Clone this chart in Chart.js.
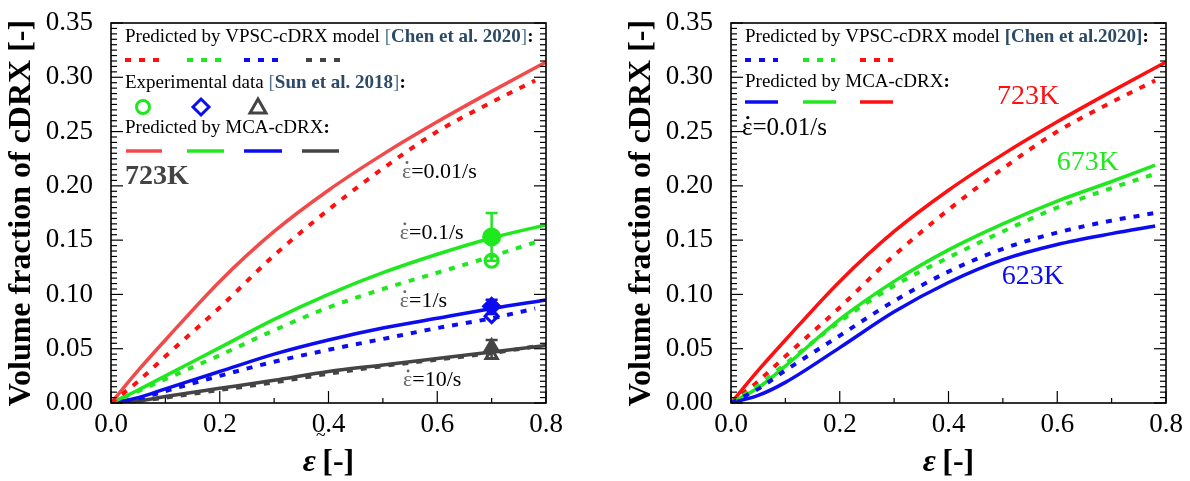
<!DOCTYPE html>
<html>
<head>
  <script src="https://cdn.jsdelivr.net/npm/chart.js"></script>
  <style>
    body { margin: 0; background: #fff; }
    canvas { position: absolute; top: 0; }
  </style>
</head>
<body>
  <div style="position: relative; width: 1190px; height: 481px;">
    <canvas id="leftChart" width="595" height="481" style="left: 0;"></canvas>
    <canvas id="rightChart" width="595" height="481" style="left: 595px;"></canvas>
  </div>

  <script>
    // strain values (x)
    const strainSolid = [0, 0.05, 0.1, 0.2, 0.3, 0.4, 0.5, 0.6, 0.7, 0.8];
    const strainDot = [0, 0.05, 0.1, 0.2, 0.3, 0.4, 0.5, 0.6, 0.7, 0.78];

    // 723K, four strain rates (left panel) - MCA solid, VPSC dotted
    const mca723_001 = [0, 0.03, 0.058, 0.112, 0.158, 0.196, 0.229, 0.259, 0.287, 0.314];
    const vpsc723_001 = [0, 0.02, 0.043, 0.088, 0.136, 0.178, 0.216, 0.25, 0.277, 0.297];
    const mca723_01 = [0, 0.012, 0.025, 0.051, 0.077, 0.1, 0.12, 0.137, 0.152, 0.164];
    const vpsc723_01 = [0, 0.011, 0.022, 0.044, 0.067, 0.088, 0.105, 0.12, 0.135, 0.148];
    const mca723_1 = [0, 0.005, 0.013, 0.029, 0.045, 0.058, 0.069, 0.078, 0.087, 0.095];
    const vpsc723_1 = [0, 0.004, 0.011, 0.025, 0.038, 0.049, 0.059, 0.069, 0.078, 0.087];
    const mca723_10 = [0, 0.002, 0.006, 0.0135, 0.021, 0.029, 0.035, 0.041, 0.047, 0.053];
    const vpsc723_10 = [0, 0.002, 0.005, 0.012, 0.019, 0.027, 0.034, 0.04, 0.046, 0.052];

    // 0.01/s, three temperatures (right panel)
    const mca673 = [0, 0.014, 0.034, 0.077, 0.112, 0.141, 0.165, 0.186, 0.204, 0.219];
    const vpsc673 = [0, 0.016, 0.036, 0.075, 0.108, 0.134, 0.158, 0.18, 0.198, 0.211];
    const mca623 = [0, 0.007, 0.019, 0.051, 0.084, 0.111, 0.132, 0.146, 0.156, 0.163];
    const vpsc623 = [0, 0.013, 0.03, 0.062, 0.094, 0.121, 0.142, 0.157, 0.168, 0.175];

    // experimental points at strain 0.7 (0.1/s, 1/s, 10/s)
    const expStrain = [0.7, 0.7, 0.7];
    const expOpen = [0.131, 0.080, 0.044];
    const expFilled = [0.153, 0.089, 0.051];
    const errLow = [0.131, 0.082, 0.041];
    const errHigh = [0.175, 0.095, 0.058];

    const xTicks = [0, 0.2, 0.4, 0.6, 0.8];
    const yTicks = [0, 0.05, 0.1, 0.15, 0.2, 0.25, 0.3, 0.35];

    const SERIF = 'Liberation Serif';
    const RED_L = '#f24a4a', RED = '#ff0f0f', GREEN = '#1fe81f', BLUE = '#0c0cf0', GRAY = '#444444';
    const CITE = '#2c4a68', BRACKET = '#56768f';

    const pts = (xs, ys) => xs.map((x, i) => ({ x: x, y: ys[i] }));

    function lineSet(xs, ys, color, dotted) {
      return {
        data: pts(xs, ys),
        showLine: true,
        borderColor: color,
        borderWidth: dotted ? 4 : 3.5,
        borderDash: dotted ? [6, 8] : [],
        pointRadius: 0,
        cubicInterpolationMode: 'monotone'
      };
    }

    function markerSet(i, ys, color, style, filled) {
      return {
        data: [{ x: expStrain[i], y: ys[i] }],
        showLine: false,
        pointStyle: style,
        pointRadius: filled ? 8 : 6.5,
        borderWidth: 3,
        borderColor: color,
        pointBackgroundColor: filled ? color : '#fff'
      };
    }

    // rich text: segments of [text, bold, color, italic]
    function rich(ctx, x, y, size, segs) {
      ctx.textBaseline = 'middle';
      ctx.textAlign = 'left';
      segs.forEach(s => {
        ctx.font = (s[3] ? 'italic ' : '') + (s[1] ? 'bold ' : '') + size + 'px "' + SERIF + '"';
        ctx.fillStyle = s[2] || '#000';
        ctx.fillText(s[0], x, y);
        x += ctx.measureText(s[0]).width;
      });
      return x;
    }

    // epsilon with a dot above, then the rest of the label
    function rateLabel(ctx, x, y, size, epsColor, rest) {
      ctx.font = size + 'px "' + SERIF + '"';
      const w = ctx.measureText('\u03B5').width;
      rich(ctx, x, y, size, [['\u03B5', false, epsColor], [rest]]);
      ctx.fillStyle = epsColor;
      ctx.beginPath();
      ctx.arc(x + w * 0.55, y - size * 0.42, size * 0.065, 0, Math.PI * 2);
      ctx.fill();
    }

    function sample(ctx, x1, x2, y, color, dotted) {
      ctx.save();
      ctx.strokeStyle = color;
      ctx.lineWidth = dotted ? 4 : 3.5;
      ctx.setLineDash(dotted ? [6, 8] : []);
      ctx.beginPath(); ctx.moveTo(x1, y); ctx.lineTo(x2, y); ctx.stroke();
      ctx.restore();
    }

    function openMarker(ctx, x, y, color, shape) {
      ctx.save();
      ctx.strokeStyle = color; ctx.lineWidth = 3; ctx.fillStyle = '#fff';
      ctx.beginPath();
      if (shape === 'circle') ctx.arc(x, y, 6.5, 0, Math.PI * 2);
      else if (shape === 'diamond') { ctx.moveTo(x, y - 8); ctx.lineTo(x + 8, y); ctx.lineTo(x, y + 8); ctx.lineTo(x - 8, y); ctx.closePath(); }
      else { ctx.moveTo(x, y - 8); ctx.lineTo(x + 8, y + 6); ctx.lineTo(x - 8, y + 6); ctx.closePath(); }
      ctx.fill(); ctx.stroke();
      ctx.restore();
    }

    // frame with inward ticks on both y sides and bottom x
    const frameTicks = {
      id: 'frameTicks',
      afterDraw(chart) {
        const { ctx, chartArea: a, scales: { x, y } } = chart;
        ctx.save();
        ctx.strokeStyle = '#000';
        ctx.lineWidth = 1.2;
        const seg = (x1, y1, x2, y2) => { ctx.beginPath(); ctx.moveTo(x1, y1); ctx.lineTo(x2, y2); ctx.stroke(); };
        for (let i = 0; i <= 70; i++) {
          const py = y.getPixelForValue(i * 0.005);
          const len = i % 10 === 0 ? 12 : 6;
          seg(a.left, py, a.left + len, py);
          seg(a.right, py, a.right - len, py);
        }
        for (let i = 0; i <= 8; i++) {
          const px = x.getPixelForValue(i * 0.1);
          seg(px, a.bottom, px, a.bottom - (i % 2 === 0 ? 12 : 5));
        }
        ctx.lineWidth = 1.6;
        ctx.strokeRect(a.left, a.top, a.width, a.height);
        ctx.restore();
      }
    };

    // axis titles
    const axisTitles = {
      id: 'axisTitles',
      afterDraw(chart) {
        const { ctx, chartArea: a } = chart;
        ctx.save();
        ctx.translate(a.left - 89, (a.top + a.bottom) / 2);
        ctx.rotate(-Math.PI / 2);
        ctx.font = 'bold 32px "' + SERIF + '"';
        ctx.fillStyle = '#000';
        ctx.textAlign = 'center';
        ctx.textBaseline = 'middle';
        ctx.fillText('Volume fraction of cDRX [-]', 0, 0);
        ctx.restore();

        ctx.save();
        ctx.font = 'italic bold 32px "' + SERIF + '"';
        const w1 = ctx.measureText('\u03B5').width;
        ctx.font = 'bold 32px "' + SERIF + '"';
        const w2 = ctx.measureText('\u2009[-]').width;
        const x0 = (a.left + a.right) / 2 - (w1 + w2) / 2;
        rich(ctx, x0, 463, 32, [['\u03B5', true, '#000', true], ['\u2009[-]', true, '#000']]);
        ctx.restore();
      }
    };

    // error bars on filled experimental points (left panel)
    const errorBars = {
      id: 'errorBars',
      afterDatasetsDraw(chart) {
        const { ctx, scales: { x, y } } = chart;
        const cols = [GREEN, BLUE, GRAY];
        ctx.save();
        ctx.lineWidth = 2.5;
        expStrain.forEach((sx, i) => {
          const px = x.getPixelForValue(sx);
          const lo = y.getPixelForValue(errLow[i]), hi = y.getPixelForValue(errHigh[i]);
          ctx.strokeStyle = cols[i];
          ctx.beginPath();
          ctx.moveTo(px, lo); ctx.lineTo(px, hi);
          ctx.moveTo(px - 6, lo); ctx.lineTo(px + 6, lo);
          ctx.moveTo(px - 6, hi); ctx.lineTo(px + 6, hi);
          ctx.stroke();
        });
        ctx.restore();
      }
    };

    const leftNotes = {
      id: 'leftNotes',
      afterDraw(chart) {
        const { ctx, scales: { x, y } } = chart;
        ctx.save();
        rich(ctx, 125, 37, 19, [['Predicted by VPSC-cDRX model '], ['[', false, BRACKET], ['Chen et al. 2020', true, CITE], [']', false, BRACKET], [':', true]]);
        sample(ctx, 125, 161, 60, RED, true);
        sample(ctx, 187, 223, 60, GREEN, true);
        sample(ctx, 244, 280, 60, BLUE, true);
        sample(ctx, 306, 342, 60, GRAY, true);
        rich(ctx, 125, 83, 19, [['Experimental data '], ['[', false, BRACKET], ['Sun et al. 2018', true, CITE], [']', false, BRACKET], [':', true]]);
        openMarker(ctx, 143, 107, GREEN, 'circle');
        openMarker(ctx, 201, 107, BLUE, 'diamond');
        openMarker(ctx, 258, 107, GRAY, 'triangle');
        rich(ctx, 125, 128, 19, [['Predicted by MCA-cDRX'], [':', true]]);
        sample(ctx, 126, 162, 151, RED_L, false);
        sample(ctx, 187, 224, 151, GREEN, false);
        sample(ctx, 244, 282, 151, BLUE, false);
        sample(ctx, 302, 339, 151, GRAY, false);
        rich(ctx, 125, 177, 28, [['723K', true, GRAY]]);

        const notes = [[0.535, 0.213, '0.01/s'], [0.531, 0.1565, '0.1/s'], [0.531, 0.094, '1/s'], [0.537, 0.021, '10/s']];
        notes.forEach(n => rateLabel(ctx, x.getPixelForValue(n[0]), y.getPixelForValue(n[1]), 22, '#666', '=' + n[2]));
        rich(ctx, 316, 436, 18, [['~']]);
        ctx.restore();
      }
    };

    const rightNotes = {
      id: 'rightNotes',
      afterDraw(chart) {
        const { ctx, scales: { x, y } } = chart;
        ctx.save();
        rich(ctx, 150, 37, 19, [['Predicted by VPSC-cDRX model '], ['[Chen et al.2020]', true, CITE], [':', true]]);
        sample(ctx, 150, 183, 60, BLUE, true);
        sample(ctx, 208, 240, 60, GREEN, true);
        sample(ctx, 265, 298, 60, RED, true);
        rich(ctx, 150, 82, 19, [['Predicted by MCA-cDRX'], [':', true]]);
        sample(ctx, 150, 183, 102, BLUE, false);
        sample(ctx, 208, 241, 102, GREEN, false);
        sample(ctx, 265, 298, 102, RED, false);
        rateLabel(ctx, 147, 128, 25, '#000', '=0.01/s');

        rich(ctx, x.getPixelForValue(0.489), y.getPixelForValue(0.282), 28, [['723K', false, RED]]);
        rich(ctx, x.getPixelForValue(0.599), y.getPixelForValue(0.221), 28, [['673K', false, GREEN]]);
        rich(ctx, x.getPixelForValue(0.498), y.getPixelForValue(0.116), 28, [['623K', false, BLUE]]);
        ctx.restore();
      }
    };

    function scales(yWidth) {
      const tickFont = { family: SERIF, size: 27 };
      return {
        x: {
          type: 'linear', min: 0, max: 0.8,
          grid: { display: false, drawTicks: false },
          border: { display: false },
          afterBuildTicks: s => { s.ticks = xTicks.map(v => ({ value: v })); },
          ticks: { color: '#000', font: tickFont, padding: 6, maxRotation: 0, callback: v => v.toFixed(1) },
          afterFit: s => { s.height = 78; s.paddingLeft = 0; s.paddingRight = 0; }
        },
        y: {
          type: 'linear', min: 0, max: 0.35,
          grid: { display: false, drawTicks: false },
          border: { display: false },
          afterBuildTicks: s => { s.ticks = yTicks.map(v => ({ value: v })); },
          ticks: { color: '#000', font: tickFont, padding: 18, callback: v => v.toFixed(2) },
          afterFit: s => { s.width = yWidth; s.paddingTop = 0; s.paddingBottom = 0; }
        }
      };
    }

    function baseOptions(yWidth, rightPad) {
      return {
        responsive: false,
        animation: false,
        layout: { padding: { left: 0, right: rightPad, top: 23, bottom: 0 } },
        plugins: { legend: { display: false }, tooltip: { enabled: false } },
        scales: scales(yWidth)
      };
    }

    new Chart(document.getElementById('leftChart'), {
      type: 'scatter',
      data: {
        datasets: [
          lineSet(strainDot, vpsc723_001, RED, true),
          lineSet(strainDot, vpsc723_01, GREEN, true),
          lineSet(strainDot, vpsc723_1, BLUE, true),
          lineSet(strainDot, vpsc723_10, GRAY, true),
          lineSet(strainSolid, mca723_001, RED_L, false),
          lineSet(strainSolid, mca723_01, GREEN, false),
          lineSet(strainSolid, mca723_1, BLUE, false),
          lineSet(strainSolid, mca723_10, GRAY, false),
          markerSet(0, expOpen, GREEN, 'circle', false),
          markerSet(1, expOpen, BLUE, 'rectRot', false),
          markerSet(2, expOpen, GRAY, 'triangle', false),
          markerSet(0, expFilled, GREEN, 'circle', true),
          markerSet(1, expFilled, BLUE, 'rectRot', true),
          markerSet(2, expFilled, GRAY, 'triangle', true)
        ]
      },
      options: baseOptions(111, 49),
      plugins: [errorBars, frameTicks, axisTitles, leftNotes]
    });

    new Chart(document.getElementById('rightChart'), {
      type: 'scatter',
      data: {
        datasets: [
          lineSet(strainDot, vpsc623, BLUE, true),
          lineSet(strainDot, vpsc673, GREEN, true),
          lineSet(strainDot, vpsc723_001, RED, true),
          lineSet(strainDot, mca623, BLUE, false),
          lineSet(strainDot, mca673, GREEN, false),
          lineSet(strainSolid, mca723_001, RED, false)
        ]
      },
      options: baseOptions(136, 24),
      plugins: [frameTicks, axisTitles, rightNotes]
    });
  </script>
</body>
</html>
